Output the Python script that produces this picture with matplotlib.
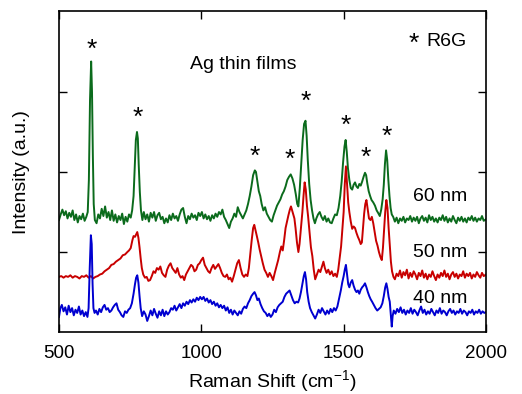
"""
SERS spectra of R6G on Ag thin films of different thickness
"""

import matplotlib
matplotlib.use('Agg')
import matplotlib.pyplot as plt
import numpy as np

plt.rcParams['font.family'] = ['Liberation Sans', 'DejaVu Sans']
plt.rcParams['mathtext.fontset'] = 'custom'
plt.rcParams['mathtext.rm'] = 'Liberation Sans'
plt.rcParams['mathtext.it'] = 'Liberation Sans:italic'

# 60 nm film (offset spectrum)
shift_60 = [500, 506, 512, 518, 524, 530, 536, 542, 548, 554, 560, 566, 572, 578, 584, 590, 596, 601,
            605, 609, 613, 616, 619, 622, 626, 632, 638, 644, 650, 656, 662, 668, 674, 680, 686, 692,
            698, 704, 710, 716, 722, 728, 734, 740, 746, 752, 757, 762, 766, 770, 774, 777, 780, 784,
            788, 793, 798, 804, 810, 816, 822, 828, 834, 840, 846, 852, 858, 864, 870, 876, 882, 888,
            894, 900, 906, 912, 918, 924, 930, 936, 942, 948, 954, 960, 966, 972, 978, 984, 990, 996,
            1002, 1008, 1014, 1020, 1026, 1032, 1038, 1044, 1050, 1056, 1062, 1068, 1074, 1080, 1086,
            1092, 1098, 1104, 1110, 1116, 1122, 1128, 1134, 1140, 1146, 1152, 1158, 1164, 1170, 1176,
            1182, 1188, 1192, 1197, 1202, 1207, 1212, 1218, 1224, 1230, 1236, 1242, 1248, 1254, 1260,
            1266, 1272, 1278, 1284, 1290, 1296, 1302, 1308, 1314, 1320, 1326, 1332, 1337, 1341, 1346,
            1351, 1356, 1361, 1366, 1370, 1374, 1379, 1384, 1389, 1394, 1399, 1404, 1410, 1416, 1422,
            1428, 1434, 1440, 1446, 1452, 1458, 1464, 1470, 1476, 1482, 1488, 1493, 1498, 1503, 1507,
            1511, 1515, 1520, 1525, 1530, 1535, 1540, 1545, 1550, 1555, 1560, 1565, 1570, 1575, 1579,
            1583, 1588, 1593, 1598, 1604, 1610, 1616, 1621, 1627, 1632, 1637, 1641, 1645, 1649, 1653,
            1657, 1661, 1665, 1669, 1674, 1680, 1686, 1692, 1698, 1704, 1710, 1716, 1722, 1728, 1734,
            1740, 1746, 1752, 1758, 1764, 1770, 1776, 1782, 1788, 1794, 1800, 1806, 1812, 1818, 1824,
            1830, 1836, 1842, 1848, 1854, 1860, 1866, 1872, 1878, 1884, 1890, 1896, 1902, 1908, 1914,
            1920, 1926, 1932, 1938, 1944, 1950, 1956, 1962, 1968, 1974, 1980, 1986, 1992, 2000]
int_60 = [1.40, 1.47, 1.53, 1.46, 1.51, 1.42, 1.49, 1.44, 1.52, 1.40, 1.47, 1.37, 1.45, 1.41, 1.48, 1.39, 1.44, 1.50,
          1.90, 2.90, 3.38, 3.00, 2.20, 1.60, 1.40, 1.36, 1.47, 1.42, 1.54, 1.45, 1.57, 1.43, 1.50, 1.40, 1.52, 1.39,
          1.47, 1.37, 1.45, 1.40, 1.48, 1.35, 1.44, 1.38, 1.47, 1.43, 1.52, 1.70, 2.05, 2.40, 2.50, 2.42, 2.10, 1.75,
          1.52, 1.40, 1.50, 1.41, 1.47, 1.38, 1.49, 1.43, 1.50, 1.39, 1.46, 1.49, 1.41, 1.44, 1.36, 1.42, 1.37, 1.46,
          1.40, 1.48, 1.42, 1.45, 1.39, 1.47, 1.53, 1.55, 1.44, 1.36, 1.45, 1.41, 1.48, 1.43, 1.46, 1.40, 1.49, 1.45,
          1.50, 1.42, 1.47, 1.41, 1.45, 1.39, 1.46, 1.42, 1.48, 1.44, 1.50, 1.47, 1.53, 1.44, 1.40,
          1.35, 1.30, 1.38, 1.42, 1.48, 1.44, 1.56, 1.50, 1.46, 1.42, 1.47, 1.52, 1.60, 1.70, 1.82,
          1.96, 2.02, 2.00, 1.88, 1.76, 1.70, 1.60, 1.52, 1.56, 1.48, 1.44, 1.40, 1.38, 1.46, 1.52,
          1.58, 1.62, 1.66, 1.72, 1.76, 1.82, 1.90, 1.94, 1.97, 1.92, 1.84, 1.72, 1.60, 1.57, 1.80,
          2.10, 2.40, 2.60, 2.64, 2.45, 2.15, 1.85, 1.65, 1.52, 1.42, 1.36, 1.42, 1.47, 1.50, 1.44,
          1.40, 1.45, 1.38, 1.42, 1.37, 1.36, 1.42, 1.47, 1.46, 1.55, 1.70, 1.88, 2.12, 2.32, 2.40,
          2.25, 2.05, 1.90, 1.80, 1.78, 1.84, 1.87, 1.82, 1.80, 1.85, 1.83, 1.88, 1.94, 1.99, 1.96,
          1.86, 1.76, 1.70, 1.65, 1.62, 1.58, 1.52, 1.49, 1.45, 1.53, 1.66, 1.84, 2.10, 2.27, 2.15,
          1.90, 1.70, 1.55, 1.47, 1.44, 1.38, 1.43, 1.36, 1.42, 1.39, 1.44, 1.37, 1.42, 1.40, 1.45,
          1.38, 1.43, 1.39, 1.44, 1.36, 1.42, 1.45, 1.39, 1.43, 1.37, 1.46, 1.40, 1.44, 1.38, 1.42,
          1.37, 1.43, 1.40, 1.46, 1.39, 1.44, 1.37, 1.42, 1.38, 1.45, 1.40, 1.36, 1.43, 1.39, 1.44,
          1.38, 1.42, 1.37, 1.43, 1.40, 1.45, 1.39, 1.43, 1.38, 1.42, 1.40, 1.45, 1.39, 1.41]

# 50 nm film
shift_50 = [500, 508, 516, 524, 532, 540, 548, 556, 564, 572, 580, 588, 596, 604, 612, 620, 628, 636,
            644, 652, 660, 668, 676, 684, 692, 700, 708, 716, 724, 732, 740, 746, 752, 758, 762, 767,
            771, 775, 779, 783, 787, 791, 796, 802, 808, 814, 820, 826, 832, 838, 844, 850, 856, 862,
            868, 874, 880, 886, 892, 898, 904, 910, 916, 922, 928, 934, 940, 946, 952, 958, 964, 970,
            976, 982, 988, 994, 1000, 1006, 1012, 1018, 1024, 1030, 1036, 1042, 1048, 1054, 1060, 1066,
            1072, 1078, 1084, 1090, 1096, 1102, 1108, 1114, 1120, 1126, 1132, 1138, 1144, 1150, 1156,
            1162, 1167, 1172, 1177, 1182, 1186, 1190, 1195, 1200, 1205, 1210, 1216, 1222, 1228, 1234,
            1240, 1246, 1252, 1258, 1264, 1270, 1276, 1281, 1286, 1291, 1296, 1301, 1306, 1311, 1315,
            1319, 1323, 1327, 1331, 1336, 1341, 1345, 1350, 1355, 1359, 1363, 1367, 1371, 1375, 1380,
            1385, 1390, 1395, 1400, 1406, 1412, 1418, 1424, 1429, 1434, 1440, 1446, 1452, 1458, 1464,
            1470, 1476, 1481, 1486, 1491, 1496, 1500, 1504, 1508, 1512, 1516, 1520, 1525, 1530, 1535,
            1540, 1545, 1550, 1555, 1560, 1564, 1568, 1572, 1576, 1580, 1584, 1589, 1594, 1599, 1604,
            1609, 1614, 1619, 1624, 1629, 1634, 1638, 1642, 1646, 1650, 1654, 1658, 1662, 1666, 1670,
            1675, 1680, 1686, 1692, 1698, 1704, 1710, 1716, 1722, 1728, 1734, 1740, 1746, 1752, 1758,
            1764, 1770, 1776, 1782, 1788, 1794, 1800, 1806, 1812, 1818, 1824, 1830, 1836, 1842, 1848,
            1854, 1860, 1866, 1872, 1878, 1884, 1890, 1896, 1902, 1908, 1914, 1920, 1926, 1932, 1938,
            1944, 1950, 1956, 1962, 1968, 1974, 1980, 1986, 1992, 2000]
int_50 = [0.69, 0.70, 0.68, 0.70, 0.69, 0.71, 0.68, 0.70, 0.69, 0.67, 0.70, 0.69, 0.71, 0.68, 0.70, 0.67, 0.69, 0.70,
          0.72, 0.73, 0.76, 0.78, 0.80, 0.84, 0.85, 0.88, 0.90, 0.92, 0.96, 0.97, 1.00, 1.02, 1.05, 1.15, 1.20, 1.19,
          1.22, 1.25, 1.18, 1.06, 0.92, 0.80, 0.72, 0.68, 0.69, 0.64, 0.65, 0.70, 0.76, 0.74, 0.80, 0.78, 0.82, 0.74,
          0.71, 0.69, 0.78, 0.83, 0.86, 0.80, 0.77, 0.74, 0.80, 0.72, 0.68, 0.70, 0.65, 0.72, 0.76, 0.80, 0.84, 0.82,
          0.76, 0.78, 0.84, 0.86, 0.90, 0.93, 0.84, 0.80, 0.76, 0.74, 0.80, 0.84, 0.79, 0.82, 0.85, 0.80,
          0.74, 0.70, 0.69, 0.72, 0.66, 0.68, 0.63, 0.70, 0.78, 0.86, 0.90, 0.80, 0.72, 0.69, 0.72,
          0.70, 0.80, 0.98, 1.15, 1.30, 1.34, 1.28, 1.20, 1.12, 1.03, 0.95, 0.86, 0.78, 0.74, 0.69,
          0.74, 0.70, 0.65, 0.74, 0.82, 0.90, 1.00, 1.07, 1.02, 1.15, 1.30, 1.38, 1.46, 1.53, 1.57,
          1.52, 1.47, 1.42, 1.30, 1.12, 1.00, 1.10, 1.30, 1.50, 1.70, 1.87, 1.78, 1.58, 1.45, 1.25,
          1.06, 0.95, 0.78, 0.66, 0.72, 0.78, 0.75, 0.82, 0.88, 0.80, 0.74, 0.78, 0.72, 0.76, 0.70,
          0.73, 0.69, 0.78, 0.92, 1.07, 1.30, 1.50, 1.85, 2.07, 1.85, 1.62, 1.50, 1.38, 1.29, 1.32,
          1.30, 1.24, 1.19, 1.15, 1.10, 1.12, 1.30, 1.48, 1.60, 1.65, 1.55, 1.42, 1.40, 1.44, 1.36,
          1.25, 1.14, 1.08, 1.00, 0.94, 0.90, 1.05, 1.28, 1.50, 1.65, 1.55, 1.30, 1.08, 0.88, 0.76,
          0.69, 0.66, 0.73, 0.70, 0.77, 0.68, 0.75, 0.71, 0.78, 0.67, 0.74, 0.69, 0.76, 0.72, 0.66,
          0.74, 0.70, 0.77, 0.68, 0.73, 0.66, 0.72, 0.69, 0.76, 0.70, 0.65, 0.72, 0.68, 0.74, 0.70,
          0.77, 0.69, 0.73, 0.66, 0.72, 0.75, 0.69, 0.73, 0.67, 0.72, 0.70, 0.76, 0.68, 0.73, 0.70,
          0.74, 0.67, 0.72, 0.69, 0.75, 0.71, 0.68, 0.74, 0.70, 0.72]

# 40 nm film
shift_40 = [500, 505, 510, 516, 522, 528, 534, 540, 546, 552, 558, 564, 570, 576, 582, 588, 594, 600,
            604, 608, 612, 615, 618, 621, 625, 630, 636, 642, 648, 654, 660, 666, 672, 678, 684, 690,
            696, 702, 708, 714, 720, 726, 732, 738, 744, 750, 756, 762, 767, 771, 775, 779, 783, 787,
            792, 798, 804, 810, 816, 822, 828, 834, 840, 846, 852, 858, 864, 870, 876, 882, 888, 894,
            900, 906, 912, 918, 924, 930, 936, 942, 948, 954, 960, 966, 972, 978, 984, 990, 996, 1002,
            1008, 1014, 1020, 1026, 1032, 1038, 1044, 1050, 1056, 1062, 1068, 1074, 1080, 1086, 1092,
            1098, 1104, 1110, 1116, 1122, 1128, 1134, 1140, 1146, 1152, 1158, 1164, 1170, 1176, 1182,
            1187, 1192, 1197, 1202, 1208, 1214, 1220, 1226, 1232, 1238, 1244, 1250, 1256, 1262, 1268,
            1274, 1280, 1286, 1292, 1298, 1304, 1310, 1316, 1322, 1328, 1334, 1340, 1345, 1350, 1355,
            1360, 1364, 1368, 1372, 1377, 1382, 1388, 1394, 1400, 1406, 1412, 1418, 1424, 1430, 1436,
            1442, 1448, 1454, 1460, 1466, 1472, 1478, 1484, 1490, 1495, 1500, 1504, 1508, 1512, 1516,
            1520, 1525, 1530, 1535, 1540, 1545, 1550, 1555, 1560, 1565, 1570, 1575, 1580, 1585, 1590,
            1595, 1600, 1606, 1612, 1618, 1624, 1630, 1636, 1641, 1646, 1650, 1654, 1658, 1662, 1666,
            1669, 1672, 1676, 1682, 1688, 1694, 1700, 1706, 1712, 1718, 1724, 1730, 1736, 1742, 1748,
            1754, 1760, 1766, 1772, 1778, 1784, 1790, 1796, 1802, 1808, 1814, 1820, 1826, 1832, 1838,
            1844, 1850, 1856, 1862, 1868, 1874, 1880, 1886, 1892, 1898, 1904, 1910, 1916, 1922, 1928,
            1934, 1940, 1946, 1952, 1958, 1964, 1970, 1976, 1982, 1988, 1994, 2000]
int_40 = [0.19, 0.30, 0.34, 0.26, 0.31, 0.22, 0.33, 0.25, 0.30, 0.21, 0.28, 0.24, 0.32, 0.22, 0.27, 0.20, 0.25, 0.19,
          0.30, 0.80, 1.21, 1.10, 0.60, 0.30, 0.24, 0.27, 0.22, 0.29, 0.25, 0.31, 0.34, 0.28, 0.30, 0.25, 0.27, 0.31,
          0.34, 0.36, 0.28, 0.25, 0.21, 0.19, 0.26, 0.24, 0.28, 0.30, 0.36, 0.48, 0.60, 0.68, 0.71, 0.62, 0.45, 0.30,
          0.20, 0.26, 0.22, 0.14, 0.20, 0.27, 0.21, 0.29, 0.23, 0.18, 0.26, 0.21, 0.28, 0.20, 0.26, 0.22, 0.25, 0.30,
          0.28, 0.33, 0.27, 0.31, 0.35, 0.30, 0.36, 0.33, 0.38, 0.35, 0.40, 0.37, 0.41, 0.38, 0.43, 0.40, 0.44, 0.41,
          0.44, 0.39, 0.42, 0.37, 0.40, 0.35, 0.38, 0.33, 0.36, 0.31, 0.34, 0.30, 0.33, 0.27, 0.31,
          0.24, 0.28, 0.22, 0.27, 0.24, 0.21, 0.26, 0.23, 0.29, 0.32, 0.30, 0.36, 0.40, 0.45, 0.48,
          0.50, 0.46, 0.40, 0.42, 0.35, 0.30, 0.26, 0.24, 0.20, 0.23, 0.19, 0.22, 0.28, 0.25, 0.31,
          0.34, 0.36, 0.38, 0.44, 0.48, 0.50, 0.52, 0.46, 0.40, 0.36, 0.38, 0.37, 0.42, 0.50, 0.60,
          0.70, 0.75, 0.66, 0.50, 0.38, 0.30, 0.25, 0.21, 0.17, 0.22, 0.28, 0.24, 0.30, 0.26, 0.22,
          0.27, 0.23, 0.29, 0.25, 0.30, 0.27, 0.32, 0.42, 0.52, 0.62, 0.70, 0.78, 0.84, 0.72, 0.60,
          0.56, 0.62, 0.65, 0.58, 0.53, 0.50, 0.52, 0.48, 0.53, 0.56, 0.58, 0.61, 0.56, 0.50, 0.45,
          0.41, 0.38, 0.34, 0.30, 0.27, 0.29, 0.31, 0.36, 0.45, 0.56, 0.61, 0.54, 0.44, 0.38, 0.20,
          0.07, 0.20, 0.27, 0.23, 0.29, 0.25, 0.31, 0.24, 0.28, 0.22, 0.27, 0.24, 0.30, 0.23, 0.28,
          0.25, 0.21, 0.27, 0.32, 0.24, 0.28, 0.22, 0.26, 0.23, 0.29, 0.25, 0.21, 0.27, 0.24, 0.30,
          0.23, 0.27, 0.25, 0.21, 0.26, 0.29, 0.24, 0.27, 0.22, 0.26, 0.24, 0.29, 0.23, 0.27, 0.25,
          0.21, 0.26, 0.24, 0.28, 0.22, 0.26, 0.24, 0.28, 0.23, 0.26, 0.24, 0.25]

# R6G bands marked with an asterisk, and the height of each mark
r6g_bands = [614, 775, 1188, 1311, 1367, 1507, 1577, 1651]
star_height = [3.53, 2.68, 2.19, 2.15, 2.88, 2.58, 2.18, 2.44]

series = [
    ('60 nm', shift_60, int_60, '#0b6b1c', 1.70),
    ('50 nm', shift_50, int_50, '#c80000', 0.99),
    ('40 nm', shift_40, int_40, '#0000d0', 0.42),
]


def make_plot():
    fig = plt.figure(figsize=(5.22, 3.94), dpi=100)
    ax = fig.add_axes([0.113, 0.157, 0.818, 0.815])

    for label, x, y, color, label_y in series:
        ax.plot(x, y, color=color, linewidth=1.4)
        ax.text(1838, label_y, label, fontsize=14, ha='center', va='center')

    for band, h in zip(r6g_bands, star_height):
        ax.text(band, h, '*', fontsize=19, ha='center', va='center')

    ax.text(1745, 3.60, '*', fontsize=19, ha='center', va='center')
    ax.text(1863, 3.63, 'R6G', fontsize=14, ha='center', va='center')
    ax.text(1146, 3.34, 'Ag thin films', fontsize=14, ha='center', va='center')

    ax.set_xlim(500, 2000)
    ax.set_ylim(0, 4.01)
    ax.set_xticks([500, 1000, 1500, 2000])
    ax.set_yticks([1, 2, 3])
    ax.set_yticklabels([])
    ax.tick_params(direction='in', length=5.5, width=1.0, top=True, right=True,
                   labelsize=13.5, pad=9)
    for spine in ax.spines.values():
        spine.set_linewidth(1.2)

    ax.set_xlabel('Raman Shift (cm$^{-1}$)', fontsize=14, labelpad=5)
    ax.set_ylabel('Intensity (a.u.)', fontsize=14, labelpad=12)

    fig.savefig('out.png', dpi=100)


if __name__ == "__main__":
    make_plot()
